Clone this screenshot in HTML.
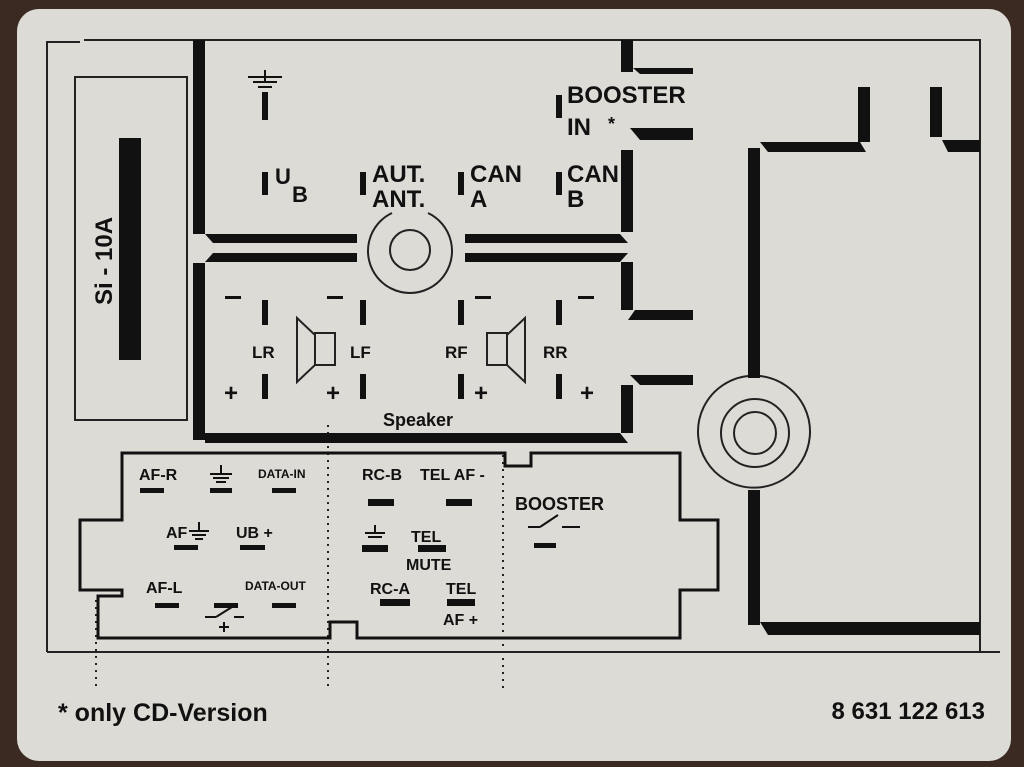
<!DOCTYPE html>
<html><head><meta charset="utf-8"><style>
html,body{margin:0;padding:0;background:#3a2a22;}
svg{display:block}
text{font-family:"Liberation Sans Narrow","Liberation Sans",sans-serif;font-weight:bold;fill:#111}
</style></head><body>
<svg width="1024" height="767" viewBox="0 0 1024 767" xmlns="http://www.w3.org/2000/svg">
<rect x="0" y="0" width="1024" height="767" fill="#3b2a22"/>
<rect x="17" y="9" width="994" height="752" rx="22" fill="#dddbd6"/>
<g fill="none" stroke="#222" stroke-width="2">
<path d="M47 652 V42 H80 M84 40 H980 V652 M47 652 H1000"/>
<rect x="75" y="77" width="112" height="343"/>
<circle cx="410" cy="250" r="20"/>
<path d="M392 213 A42 42 0 1 0 428 213"/>
<path d="M748 376 A56 56 0 1 0 760 376"/>
<circle cx="755" cy="433" r="34"/>
<circle cx="755" cy="433" r="21"/>
</g>
<g stroke="#222" stroke-width="2" stroke-dasharray="2,5">
<line x1="96" y1="600" x2="96" y2="688"/>
<line x1="328" y1="425" x2="328" y2="688"/>
<line x1="503" y1="455" x2="503" y2="688"/>
</g>
<rect x="119" y="138" width="22" height="222" fill="#111"/>
<text x="0" y="0" font-size="24" transform="translate(112,305) rotate(-90)">Si - 10A</text>
<g fill="#111">
<rect x="193" y="40" width="12" height="194"/>
<rect x="193" y="263" width="12" height="177"/>
<polygon points="205,234 357,234 357,243 213,243"/>
<polygon points="213,253 357,253 357,262 205,262"/>
<polygon points="465,234 620,234 628,243 465,243"/>
<polygon points="465,253 628,253 620,262 465,262"/>
<polygon points="205,433 620,433 628,443 205,443"/>
<rect x="621" y="40" width="12" height="32"/>
<polygon points="633,68 693,68 693,74 640,74"/>
<rect x="621" y="150" width="12" height="82"/>
<polygon points="630,128 693,128 693,140 640,140"/>
<rect x="621" y="262" width="12" height="48"/>
<polygon points="635,310 693,310 693,320 628,320"/>
<polygon points="630,375 693,375 693,385 640,385"/>
<rect x="621" y="385" width="12" height="48"/>
<rect x="748" y="148" width="12" height="230"/>
<polygon points="760,142 860,142 866,152 768,152"/>
<rect x="858" y="87" width="12" height="55"/>
<rect x="930" y="87" width="12" height="50"/>
<polygon points="942,140 980,140 980,152 948,152"/>
<rect x="748" y="490" width="12" height="135"/>
<polygon points="760,622 980,622 980,635 768,635"/>
<rect x="262" y="92" width="6" height="28"/>
<rect x="262" y="172" width="6" height="23"/>
<rect x="360" y="172" width="6" height="23"/>
<rect x="458" y="172" width="6" height="23"/>
<rect x="556" y="172" width="6" height="23"/>
<rect x="556" y="95" width="6" height="23"/>
<rect x="262" y="300" width="6" height="25"/><rect x="360" y="300" width="6" height="25"/>
<rect x="458" y="300" width="6" height="25"/><rect x="556" y="300" width="6" height="25"/>
<rect x="262" y="374" width="6" height="25"/><rect x="360" y="374" width="6" height="25"/>
<rect x="458" y="374" width="6" height="25"/><rect x="556" y="374" width="6" height="25"/>
<rect x="225" y="296" width="16" height="3"/><rect x="327" y="296" width="16" height="3"/>
<rect x="475" y="296" width="16" height="3"/><rect x="578" y="296" width="16" height="3"/>
<rect x="140" y="488" width="24" height="5"/><rect x="210" y="488" width="22" height="5"/><rect x="272" y="488" width="24" height="5"/>
<rect x="174" y="545" width="24" height="5"/><rect x="240" y="545" width="25" height="5"/>
<rect x="155" y="603" width="24" height="5"/><rect x="214" y="603" width="24" height="5"/><rect x="272" y="603" width="24" height="5"/>
<rect x="368" y="499" width="26" height="7"/><rect x="446" y="499" width="26" height="7"/>
<rect x="362" y="545" width="26" height="7"/><rect x="418" y="545" width="28" height="7"/>
<rect x="380" y="599" width="30" height="7"/><rect x="447" y="599" width="28" height="7"/>
<rect x="534" y="543" width="22" height="5"/>
</g>
<path d="M122 453 H505 V466 H531 V453 H680 V520 H718 V590 H680 V638 H357 V622 H330 V638 H98 V596 H122 V590 H80 V520 H122 Z" fill="none" stroke="#111" stroke-width="3"/>
<g stroke="#111" stroke-width="2">
<line x1="265" y1="70" x2="265" y2="83"/><line x1="248" y1="77" x2="282" y2="77"/><line x1="253" y1="82" x2="277" y2="82"/><line x1="258" y1="87" x2="272" y2="87"/>
<line x1="221" y1="465" x2="221" y2="474"/><line x1="210" y1="474" x2="232" y2="474"/><line x1="213" y1="478" x2="229" y2="478"/><line x1="216" y1="482" x2="226" y2="482"/>
<line x1="199" y1="522" x2="199" y2="531"/><line x1="189" y1="531" x2="209" y2="531"/><line x1="192" y1="535" x2="206" y2="535"/><line x1="195" y1="539" x2="203" y2="539"/>
<line x1="375" y1="525" x2="375" y2="533"/><line x1="365" y1="533" x2="385" y2="533"/><line x1="368" y1="537" x2="382" y2="537"/>
<line x1="528" y1="527" x2="540" y2="527"/><line x1="540" y1="527" x2="558" y2="515"/><line x1="562" y1="527" x2="580" y2="527"/>
<line x1="205" y1="617" x2="216" y2="617"/><line x1="216" y1="617" x2="232" y2="607"/><line x1="234" y1="617" x2="244" y2="617"/>
<line x1="224" y1="622" x2="224" y2="632"/><line x1="219" y1="627" x2="229" y2="627"/>
</g>
<g fill="none" stroke="#222" stroke-width="2">
<polygon points="297,318 315,335 315,365 297,382"/><rect x="315" y="333" width="20" height="32"/>
<polygon points="525,318 507,335 507,365 525,382"/><rect x="487" y="333" width="20" height="32"/>
</g>
<text x="275" y="184" font-size="22">U</text><text x="292" y="202" font-size="22">B</text>
<text x="372" y="182" font-size="24">AUT.</text><text x="372" y="207" font-size="24">ANT.</text>
<text x="470" y="182" font-size="24">CAN</text><text x="470" y="207" font-size="24">A</text>
<text x="567" y="182" font-size="24">CAN</text><text x="567" y="207" font-size="24">B</text>
<text x="567" y="103" font-size="24">BOOSTER</text><text x="567" y="135" font-size="24">IN</text><text x="608" y="130" font-size="18">*</text>
<text x="252" y="358" font-size="17">LR</text><text x="350" y="358" font-size="17">LF</text>
<text x="445" y="358" font-size="17">RF</text><text x="543" y="358" font-size="17">RR</text>
<text x="224" y="401" font-size="24">+</text><text x="326" y="401" font-size="24">+</text>
<text x="474" y="401" font-size="24">+</text><text x="580" y="401" font-size="24">+</text>
<text x="383" y="426" font-size="18">Speaker</text>
<text x="139" y="480" font-size="16">AF-R</text><text x="258" y="478" font-size="12">DATA-IN</text>
<text x="166" y="538" font-size="16">AF</text><text x="236" y="538" font-size="16">UB +</text>
<text x="146" y="593" font-size="16">AF-L</text><text x="245" y="590" font-size="12">DATA-OUT</text>
<text x="362" y="480" font-size="16">RC-B</text><text x="420" y="480" font-size="16">TEL AF -</text>
<text x="411" y="542" font-size="16">TEL</text><text x="406" y="570" font-size="16">MUTE</text>
<text x="370" y="594" font-size="16">RC-A</text><text x="446" y="594" font-size="16">TEL</text>
<text x="443" y="625" font-size="16">AF +</text>
<text x="515" y="510" font-size="18">BOOSTER</text>
<text x="58" y="721" font-size="25" style="font-weight:600">* only CD-Version</text>
<text x="985" y="719" font-size="24" text-anchor="end">8 631 122 613</text>
</svg>
</body></html>
